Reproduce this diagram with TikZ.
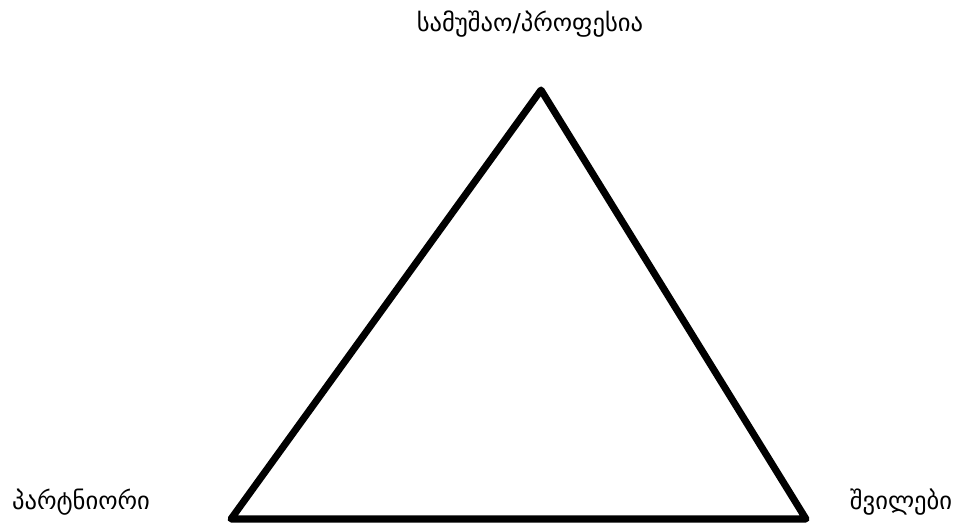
\documentclass[tikz,border=0pt]{standalone}
\usepackage{fontspec}
\newfontfamily\geofont{DejaVu Sans}
\usetikzlibrary{positioning}

\begin{document}
\begin{tikzpicture}[x=0.03cm,y=-0.03cm]
\tikzset{lbl/.style={font=\geofont\fontsize{21}{23}\selectfont}}
\useasboundingbox (0,0) rectangle (957,524);
\coordinate (top) at (541,90);
\coordinate (left) at (231,519);
\coordinate (right) at (806,519);
\draw (530,24) node[lbl](job){სამუშაო/პროფესია};
\draw (81,502) node[lbl](partner){პარტნიორი};
\draw (901,502) node[lbl](kids){შვილები};
%triangle
\draw[line width=6pt,line join=round] (left)--(top)--(right)--cycle;
\end{tikzpicture}
\end{document}
